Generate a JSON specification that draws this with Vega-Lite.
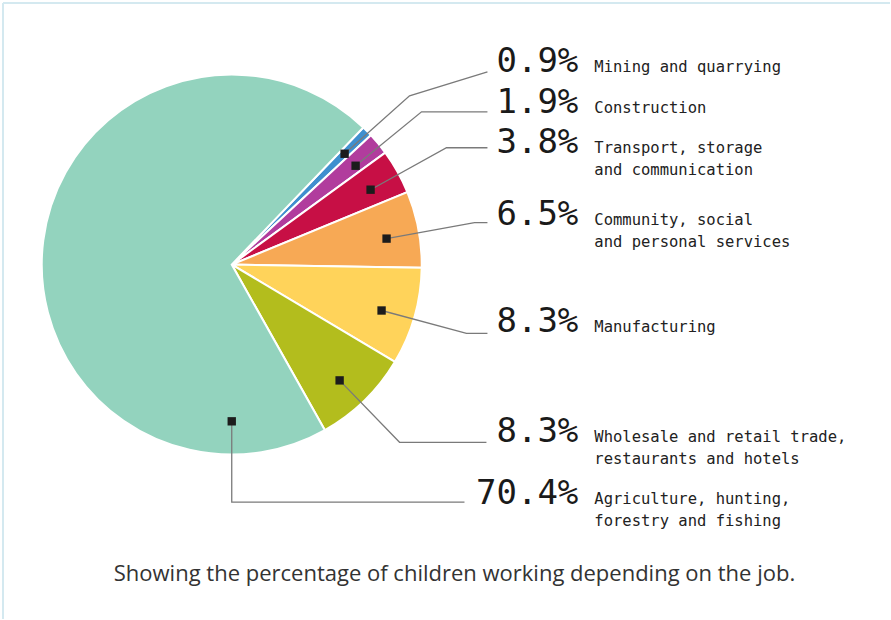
{
  "$schema": "https://vega.github.io/schema/vega-lite/v6.json",
  "width": 891,
  "height": 620,
  "autosize": {"type": "fit", "contains": "padding"},
  "padding": 0,
  "background": "white",
  "config": {"view": {"stroke": null}},
  "datasets": {
    "slices": [
      {"cat": "Mining and quarrying", "pct": 0.9, "order": 1, "label": "Mining and quarrying", "pctText": "0.9%", "ly": 72},
      {"cat": "Construction", "pct": 1.9, "order": 2, "label": "Construction", "pctText": "1.9%", "ly": 113},
      {"cat": "Transport, storage and communication", "pct": 3.8, "order": 3, "label": "Transport, storage\nand communication", "pctText": "3.8%", "ly": 153},
      {"cat": "Community, social and personal services", "pct": 6.5, "order": 4, "label": "Community, social\nand personal services", "pctText": "6.5%", "ly": 225},
      {"cat": "Manufacturing", "pct": 8.3, "order": 5, "label": "Manufacturing", "pctText": "8.3%", "ly": 333},
      {"cat": "Wholesale and retail trade, restaurants and hotels", "pct": 8.3, "order": 6, "label": "Wholesale and retail trade,\nrestaurants and hotels", "pctText": "8.3%", "ly": 443},
      {"cat": "Agriculture, hunting, forestry and fishing", "pct": 70.4, "order": 7, "label": "Agriculture, hunting,\nforestry and fishing", "pctText": "70.4%", "ly": 505}
    ],
    "leaders": [
      {"cat": "Mining and quarrying", "step": 1, "x": 345, "y": 154},
      {"cat": "Mining and quarrying", "step": 2, "x": 410, "y": 96},
      {"cat": "Mining and quarrying", "step": 3, "x": 488, "y": 72},
      {"cat": "Construction", "step": 1, "x": 356, "y": 166},
      {"cat": "Construction", "step": 2, "x": 422, "y": 112},
      {"cat": "Construction", "step": 3, "x": 488, "y": 112},
      {"cat": "Transport, storage and communication", "step": 1, "x": 371, "y": 190},
      {"cat": "Transport, storage and communication", "step": 2, "x": 447, "y": 148},
      {"cat": "Transport, storage and communication", "step": 3, "x": 488, "y": 148},
      {"cat": "Community, social and personal services", "step": 1, "x": 387, "y": 239},
      {"cat": "Community, social and personal services", "step": 2, "x": 475, "y": 223},
      {"cat": "Community, social and personal services", "step": 3, "x": 488, "y": 223},
      {"cat": "Manufacturing", "step": 1, "x": 382, "y": 311},
      {"cat": "Manufacturing", "step": 2, "x": 467, "y": 334},
      {"cat": "Manufacturing", "step": 3, "x": 488, "y": 334},
      {"cat": "Wholesale and retail trade, restaurants and hotels", "step": 1, "x": 340, "y": 381},
      {"cat": "Wholesale and retail trade, restaurants and hotels", "step": 2, "x": 400, "y": 443},
      {"cat": "Wholesale and retail trade, restaurants and hotels", "step": 3, "x": 487, "y": 443},
      {"cat": "Agriculture, hunting, forestry and fishing", "step": 1, "x": 232, "y": 422},
      {"cat": "Agriculture, hunting, forestry and fishing", "step": 2, "x": 232, "y": 503},
      {"cat": "Agriculture, hunting, forestry and fishing", "step": 3, "x": 465, "y": 503}
    ]
  },
  "layer": [
    {
      "data": {"name": "slices"},
      "mark": {"type": "arc", "radius": 190, "stroke": "white", "strokeWidth": 2},
      "encoding": {
        "x": {"datum": 232, "type": "quantitative", "scale": {"domain": [0, 891], "nice": false, "zero": false}, "axis": null},
        "y": {"datum": 265, "type": "quantitative", "scale": {"domain": [0, 620], "nice": false, "zero": false, "reverse": true}, "axis": null},
        "theta": {"field": "pct", "type": "quantitative", "stack": true, "scale": {"range": [0.765, 7.048]}},
        "order": {"field": "order", "type": "quantitative"},
        "color": {
          "field": "cat", "type": "nominal", "legend": null,
          "scale": {
            "domain": ["Mining and quarrying", "Construction", "Transport, storage and communication", "Community, social and personal services", "Manufacturing", "Wholesale and retail trade, restaurants and hotels", "Agriculture, hunting, forestry and fishing"],
            "range": ["#3f8fcf", "#b13c9d", "#c70f45", "#f7a955", "#ffd35a", "#b3bd1d", "#93d3be"]
          }
        }
      }
    },
    {
      "data": {"values": [{"edge": "left"}]},
      "mark": {"type": "rule", "color": "#d4e9f0", "strokeWidth": 2},
      "encoding": {
        "x": {"datum": 3, "type": "quantitative"},
        "y": {"datum": 3, "type": "quantitative"},
        "y2": {"datum": 620}
      }
    },
    {
      "data": {"values": [{"edge": "top"}]},
      "mark": {"type": "rule", "color": "#d4e9f0", "strokeWidth": 2},
      "encoding": {
        "x": {"datum": 3, "type": "quantitative"},
        "x2": {"datum": 891},
        "y": {"datum": 3, "type": "quantitative"}
      }
    },
    {
      "data": {"name": "leaders"},
      "mark": {"type": "line", "color": "#7a7a7a", "strokeWidth": 1.3},
      "encoding": {
        "x": {"field": "x", "type": "quantitative"},
        "y": {"field": "y", "type": "quantitative"},
        "detail": {"field": "cat"},
        "order": {"field": "step", "type": "quantitative"}
      }
    },
    {
      "data": {"name": "leaders"},
      "transform": [{"filter": "datum.step == 1"}],
      "mark": {"type": "point", "shape": "square", "filled": true, "size": 70, "color": "#1c1c1c", "opacity": 1},
      "encoding": {
        "x": {"field": "x", "type": "quantitative"},
        "y": {"field": "y", "type": "quantitative"}
      }
    },
    {
      "data": {"name": "slices"},
      "mark": {"type": "text", "align": "right", "baseline": "alphabetic", "font": "DejaVu Sans Mono", "fontSize": 34, "color": "#1a1a1a"},
      "encoding": {
        "x": {"datum": 579, "type": "quantitative"},
        "y": {"field": "ly", "type": "quantitative"},
        "text": {"field": "pctText"}
      }
    },
    {
      "data": {"name": "slices"},
      "mark": {"type": "text", "align": "left", "baseline": "alphabetic", "font": "DejaVu Sans Mono", "fontSize": 15.5, "color": "#222222", "lineBreak": "\n", "lineHeight": 22},
      "encoding": {
        "x": {"datum": 595, "type": "quantitative"},
        "y": {"field": "ly", "type": "quantitative"},
        "text": {"field": "label"}
      }
    },
    {
      "data": {"values": [{"caption": "Showing the percentage of children working depending on the job."}]},
      "mark": {"type": "text", "align": "center", "baseline": "alphabetic", "font": "Open Sans", "fontSize": 22, "color": "#333333"},
      "encoding": {
        "x": {"datum": 455, "type": "quantitative"},
        "y": {"datum": 582, "type": "quantitative"},
        "text": {"field": "caption"}
      }
    }
  ]
}
